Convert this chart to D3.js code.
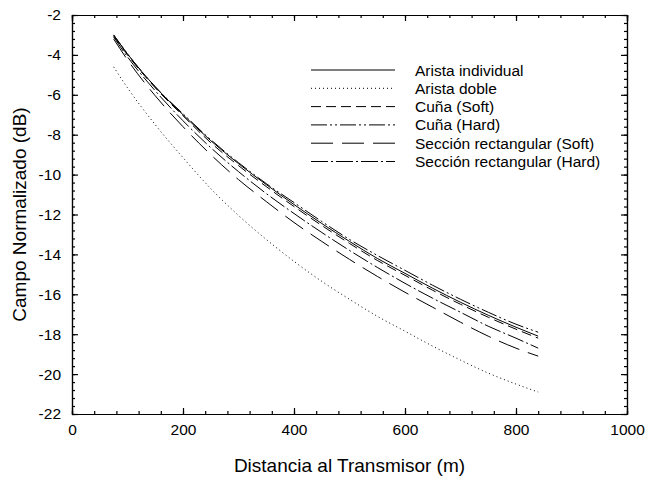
<!DOCTYPE html>
<html>
<head>
<meta charset="utf-8">
<script src="https://cdn.jsdelivr.net/npm/d3@7"></script>
<style>
  body { margin: 0; background: #fff; }
  svg { font-family: "Liberation Sans", Arial, sans-serif; }
  .axis path, .axis line { stroke: #000; stroke-width: 1.2; }
  .axis text { font-size: 15.5px; fill: #000; font-family: "Liberation Sans", Arial, sans-serif; }
</style>
</head>
<body>
<svg id="chart" width="645" height="477"></svg>
<script>
// Distance samples (m)
var distances = [75, 100, 150, 200, 250, 300, 350, 400, 450, 500, 550, 600, 650, 700, 750, 800, 840];

// Normalized field (dB) for each case
var aristaIndividual = [-3.0, -3.95, -5.6, -7.0, -8.3, -9.45, -10.5, -11.5, -12.45, -13.35, -14.2, -14.95, -15.7, -16.4, -17.05, -17.65, -18.1];
var aristaDoble = [-4.6, -5.65, -7.5, -9.15, -10.7, -12.05, -13.25, -14.35, -15.35, -16.25, -17.1, -17.85, -18.6, -19.3, -19.95, -20.5, -20.9];
var cunaSoft = [-3.05, -4.0, -5.65, -7.05, -8.4, -9.55, -10.6, -11.6, -12.55, -13.45, -14.3, -15.05, -15.8, -16.5, -17.15, -17.75, -18.2];
var cunaHard = [-3.0, -3.95, -5.6, -6.95, -8.25, -9.4, -10.45, -11.4, -12.35, -13.25, -14.05, -14.8, -15.55, -16.25, -16.9, -17.5, -17.9];
var seccionSoft = [-3.2, -4.25, -6.05, -7.6, -9.0, -10.25, -11.35, -12.4, -13.35, -14.25, -15.1, -15.9, -16.65, -17.4, -18.1, -18.7, -19.1];
var seccionHard = [-3.1, -4.1, -5.8, -7.3, -8.65, -9.85, -10.95, -11.95, -12.9, -13.8, -14.65, -15.45, -16.2, -16.9, -17.6, -18.2, -18.7];

var seriesNames = ["Arista individual", "Arista doble", "Cuña (Soft)", "Cuña (Hard)",
                   "Sección rectangular (Soft)", "Sección rectangular (Hard)"];
var seriesValues = [aristaIndividual, aristaDoble, cunaSoft, cunaHard, seccionSoft, seccionHard];
var dashes = ["none", "1,3", "10,5", "16,3,2,3,2,3", "22,9", "17,3,2,3"];

var xTicks = [0, 200, 400, 600, 800, 1000];
var yTicks = [-22, -20, -18, -16, -14, -12, -10, -8, -6, -4, -2];

var svg = d3.select("#chart");
var margin = {top: 15, right: 18, bottom: 63, left: 72},
    width = 645 - margin.left - margin.right,
    height = 477 - margin.top - margin.bottom;

var x = d3.scaleLinear().domain([0, 1000]).range([0, width]);
var y = d3.scaleLinear().domain([-22, -2]).range([height, 0]);

var g = svg.append("g")
    .attr("transform", "translate(" + margin.left + "," + margin.top + ")");

// minor ticks on all four sides
var xMinor = d3.range(0, 1001, 40);
var yMinor = d3.range(-22, -1.9, 0.4);

g.append("g").attr("class", "axis")
    .attr("transform", "translate(0," + height + ")")
    .call(d3.axisBottom(x).tickValues(xMinor).tickSize(-3).tickFormat(""));
g.append("g").attr("class", "axis")
    .call(d3.axisTop(x).tickValues(xMinor).tickSize(-3).tickFormat(""));
g.append("g").attr("class", "axis")
    .call(d3.axisLeft(y).tickValues(yMinor).tickSize(-3).tickFormat(""));
g.append("g").attr("class", "axis")
    .attr("transform", "translate(" + width + ",0)")
    .call(d3.axisRight(y).tickValues(yMinor).tickSize(-3).tickFormat(""));

// major ticks
g.append("g").attr("class", "axis")
    .attr("transform", "translate(0," + height + ")")
    .call(d3.axisBottom(x).tickValues(xTicks).tickSizeInner(-6).tickSizeOuter(0).tickPadding(10)
      .tickFormat(d3.format("d")));
g.append("g").attr("class", "axis")
    .call(d3.axisTop(x).tickValues(xTicks).tickSize(-6).tickFormat(""));
g.append("g").attr("class", "axis")
    .call(d3.axisLeft(y).tickValues(yTicks).tickSizeInner(-6).tickSizeOuter(0).tickPadding(11)
      .tickFormat(d3.format("d")));
g.append("g").attr("class", "axis")
    .attr("transform", "translate(" + width + ",0)")
    .call(d3.axisRight(y).tickValues(yTicks).tickSize(-6).tickFormat(""));

// use a plain hyphen for negative tick labels
g.selectAll(".axis text").text(function() { return this.textContent.replace("\u2212", "-"); });

// curves
var line = d3.line()
    .x(function(d) { return x(d[0]); })
    .y(function(d) { return y(d[1]); })
    .curve(d3.curveMonotoneX);

seriesValues.forEach(function(vals, i) {
  g.append("path")
      .datum(distances.map(function(d, j) { return [d, vals[j]]; }))
      .attr("fill", "none")
      .attr("stroke", "#000")
      .attr("stroke-width", 1)
      .attr("stroke-dasharray", dashes[i])
      .attr("d", line);
});

// legend
var legend = svg.append("g").attr("transform", "translate(311,70)");
seriesNames.forEach(function(name, i) {
  var row = legend.append("g").attr("transform", "translate(0," + (i * 18.3) + ")");
  row.append("line")
      .attr("x1", 0).attr("x2", 84)
      .attr("y1", 0).attr("y2", 0)
      .attr("stroke", "#000")
      .attr("stroke-width", 1)
      .attr("stroke-dasharray", dashes[i]);
  row.append("text")
      .attr("x", 104).attr("y", 5.5)
      .style("font-size", "15.5px")
      .text(name);
});

// axis titles
svg.append("text")
    .attr("transform", "translate(" + (margin.left + width / 2 - 0) + ",472)")
    .attr("text-anchor", "middle")
    .style("font-size", "19px")
    .text("Distancia al Transmisor (m)");

svg.append("text")
    .attr("transform", "translate(26," + (margin.top + height / 2) + ") rotate(-90)")
    .attr("text-anchor", "middle")
    .style("font-size", "19px")
    .text("Campo Normalizado (dB)");
</script>
</body>
</html>
